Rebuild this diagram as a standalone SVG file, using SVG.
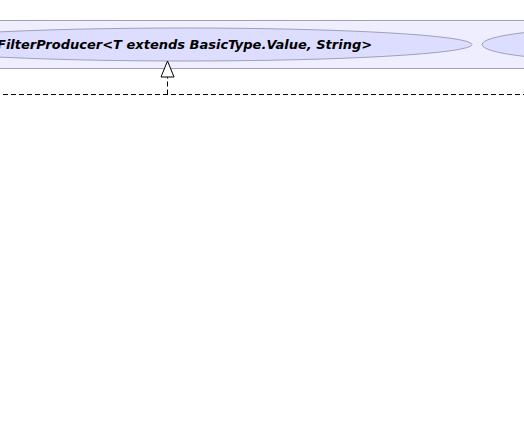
<svg xmlns="http://www.w3.org/2000/svg" width="524" height="436" viewBox="0 0 524 436">
<style>
.pkg{fill:#EEEEFF;stroke:#A0A0B0;stroke-width:1}
.uc{fill:#DDDDFF;stroke:#A0A0B8;stroke-width:1}
.lbl{font-family:"DejaVu Sans",sans-serif;font-size:13px;font-weight:bold;font-style:italic;fill:#000}
.dash{fill:none;stroke:#000;stroke-width:1;stroke-dasharray:5,3}
</style>
<rect width="524" height="436" fill="#FFFFFF"/>
<g id="package">
<rect class="pkg" x="-10" y="20.5" width="545" height="48"/>
</g>
<g id="node-filterproducer">
<ellipse class="uc" cx="185" cy="44.5" rx="287" ry="16.5"/>
<text class="lbl" x="-3" y="49">FilterProducer&lt;T extends BasicType.Value, String&gt;</text>
</g>
<g id="node-right">
<ellipse class="uc" cx="620" cy="44.5" rx="138" ry="16.5"/>
</g>
<g id="connectors">
<path class="dash" d="M-5,94.5 H530"/>
<path class="dash" d="M167.5,94.5 V77"/>
<polygon points="167.5,61 161,77 174,77" fill="#FFFFFF" stroke="#000" stroke-width="1"/>
</g>
</svg>
